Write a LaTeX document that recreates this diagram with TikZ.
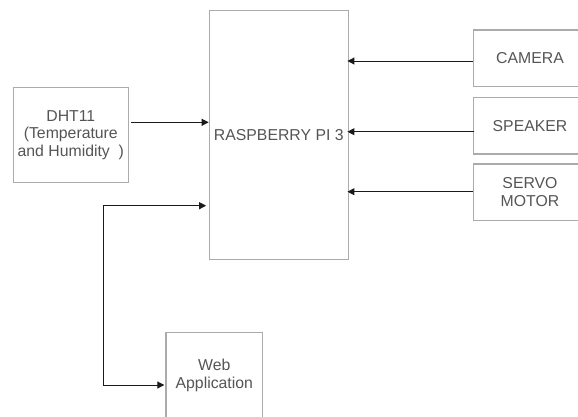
\documentclass[tikz,border=0pt]{standalone}
\usepackage{fontspec}
\setmainfont{Liberation Sans}
\usetikzlibrary{arrows.meta}
\definecolor{boxgray}{HTML}{ABABAB}
\definecolor{txtgray}{HTML}{555555}
\definecolor{arrblack}{HTML}{1A1A1A}
\tikzset{
  blk/.style={draw=boxgray, line width=1.3pt, fill=white, inner sep=0pt,
    align=center, text=txtgray, font=\fontsize{15.8}{17.8}\selectfont},
  arr/.style={draw=arrblack, line width=1pt, -{Triangle[length=7pt,width=7pt]}},
  darr/.style={draw=arrblack, line width=1pt, {Triangle[length=7pt,width=7pt]}-{Triangle[length=7pt,width=7pt]}}
}
\begin{document}
\begin{tikzpicture}[x=1pt,y=-1pt]
\fill[white] (0,0) rectangle (578,416);
\useasboundingbox (0,0) rectangle (578,416);
\clip (0,0) rectangle (578,416);
\node[blk, minimum width=139pt, minimum height=248.6pt] (rpi) at (278.8,135) {RASPBERRY PI 3};
\node[blk, minimum width=115pt, minimum height=95.4pt] (dht) at (70.8,135) {DHT11\\(Temperature\\and Humidity\ \ )};
\node[blk, minimum width=113.4pt, minimum height=56.7pt] (cam) at (530,58.3) {CAMERA};
\node[blk, minimum width=113.4pt, minimum height=56.7pt] (spk) at (530,125.7) {SPEAKER};
\node[blk, minimum width=113.4pt, minimum height=56.7pt] (srv) at (530,192.3) {SERVO\\MOTOR};
\node[blk, minimum width=96.7pt, minimum height=86.4pt] (web) at (214.3,375.5) {Web\\Application};
\coordinate (bend1) at (103.3,205.7);
\coordinate (bend2) at (103.3,385);
\draw[arr] (cam.west |- 0,61) -- ([xshift=-1.5pt]rpi.east |- 0,61);
\draw[arr] ([xshift=1.5pt]spk.west |- 0,131.7) -- ([xshift=-1.5pt]rpi.east |- 0,131.7);
\draw[arr] (srv.west |- 0,191.7) -- ([xshift=-1.5pt]rpi.east |- 0,191.7);
\draw[arr] ([xshift=2.5pt]dht.east |- 0,122.3) -- (rpi.west |- 0,122.3);
\draw[darr] ([xshift=-2.5pt]rpi.west |- bend1) -- (bend1) -- (bend2) -- ([xshift=-1pt]web.west |- bend2);
\end{tikzpicture}
\end{document}
